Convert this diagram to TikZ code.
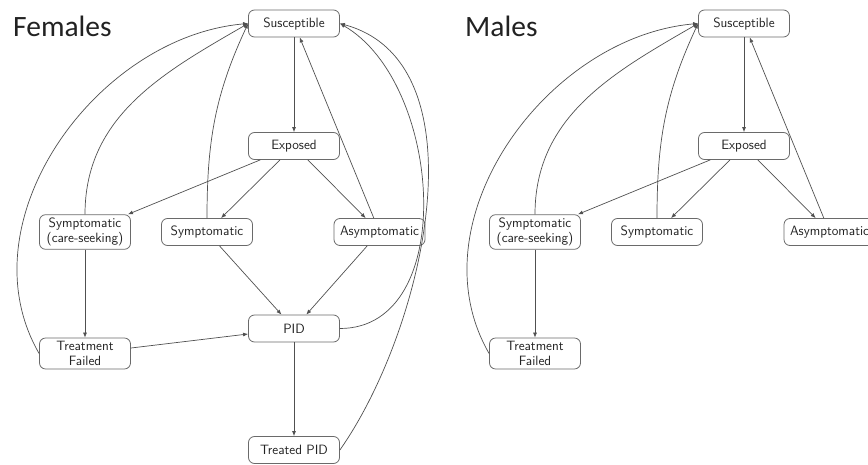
\documentclass[tikz,border=0pt]{standalone}
\usepackage{fontspec}
\newfontfamily\titlefont{Carlito}
\usetikzlibrary{arrows.meta}
\definecolor{boxline}{HTML}{6A6A6A}
\definecolor{conn}{HTML}{505050}
\definecolor{txt}{HTML}{222222}
\tikzset{
  state/.style={draw=boxline, line width=0.8pt, rounded corners=6pt,
    minimum width=91pt, minimum height=27pt, inner sep=3.5pt, align=center,
    text=txt, font=\sffamily\fontsize{13.5}{14.5}\selectfont},
  flow/.style={draw=conn, line width=0.7pt, -{Latex[length=5pt,width=4pt]}},
  ttl/.style={anchor=base west, inner sep=0pt, text=txt, font=\titlefont\fontsize{29.5}{32}\selectfont}
}
\begin{document}
\begin{tikzpicture}[x=1pt,y=1pt]
\useasboundingbox (0,0) rectangle (868,464);
\clip (0,0) rectangle (868,464);
% ---------- Females ----------
\node[ttl] (tf) at (13,427) {Females};
\node[state] (fS)  at (294,440.5) {Susceptible};
\node[state] (fE)  at (294,318) {Exposed};
\node[state] (fC)  at (85,232) {Symptomatic\\(care-seeking)};
\node[state] (fSy) at (207,232) {Symptomatic};
\node[state] (fA)  at (379.5,232) {Asymptomatic};
\node[state] (fP)  at (294,135.5) {PID};
\node[state] (fTF) at (85,110.5) {Treatment\\Failed};
\node[state] (fTP) at (294,14) {Treated PID};
\draw[flow] (fS) -- (fE);
\draw[flow] (fE) -- (fC);
\draw[flow] (fE) -- (fSy);
\draw[flow] (fE) -- (fA);
\draw[flow] (fA) -- (fS);
\draw[flow] (fSy.north) to[out=90,in=245] (fS.west);
\draw[flow] (fC.north) to[out=90,in=210] (fS.west);
\draw[flow] (fTF.west) to[out=120,in=185] (fS.west);
\draw[flow] (fC) -- (fTF);
\draw[flow] (fSy) -- (fP);
\draw[flow] (fA) -- (fP);
\draw[flow] (fTF) -- (fP);
\draw[flow] (fP) -- (fTP);
\draw[flow] (fP.east) to[out=0,in=-30] (fS.east);
\draw[flow] (fTP.east) to[out=55,in=-15,looseness=0.9] (fS.east);
% ---------- Males ----------
\node[ttl] (tm) at (465,427) {Males};
\node[state] (mS)  at (744,440.5) {Susceptible};
\node[state] (mE)  at (744,318) {Exposed};
\node[state] (mC)  at (535,232) {Symptomatic\\(care-seeking)};
\node[state] (mSy) at (657,232) {Symptomatic};
\node[state] (mA)  at (829.5,232) {Asymptomatic};
\node[state] (mTF) at (535,110.5) {Treatment\\Failed};
\draw[flow] (mS) -- (mE);
\draw[flow] (mE) -- (mC);
\draw[flow] (mE) -- (mSy);
\draw[flow] (mE) -- (mA);
\draw[flow] (mA) -- (mS);
\draw[flow] (mSy.north) to[out=90,in=245] (mS.west);
\draw[flow] (mC.north) to[out=90,in=210] (mS.west);
\draw[flow] (mTF.west) to[out=120,in=185] (mS.west);
\draw[flow] (mC) -- (mTF);
\end{tikzpicture}
\end{document}
